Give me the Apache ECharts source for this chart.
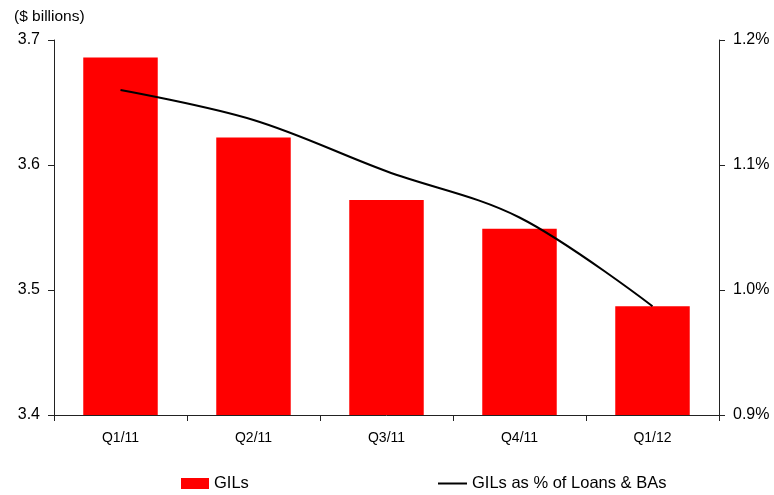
<!DOCTYPE html>
<html>
<head>
<meta charset="utf-8">
<script src="https://cdn.jsdelivr.net/npm/echarts@6/dist/echarts.min.js"></script>
<style>
  html, body { margin: 0; padding: 0; background: #fff; }
  #chart { width: 774px; height: 495px; }
</style>
</head>
<body>
<div id="chart"></div>
<script>
// Quarterly gross impaired loans
const quarters = ['Q1/11', 'Q2/11', 'Q3/11', 'Q4/11', 'Q1/12'];
const gilsBillions = [3.686, 3.622, 3.572, 3.549, 3.487];
const gilsPctOfLoans = [1.160, 1.136, 1.095, 1.058, 0.987];
const leftTicks = { min: 3.4, max: 3.7, step: 0.1 };
const rightTicks = { min: 0.9, max: 1.2, step: 0.1 };

const FONT = '"Liberation Sans", Arial, sans-serif';
const chart = echarts.init(document.getElementById('chart'), null, { renderer: 'canvas' });

const axisLine = { show: true, lineStyle: { color: '#222', width: 1 } };
const axisTick = { show: true, length: 6, lineStyle: { color: '#222' } };

chart.setOption({
  animation: false,
  backgroundColor: '#fff',
  title: {
    text: '($ billions)',
    left: 9, top: 4,
    textStyle: { fontFamily: FONT, fontSize: 15.5, fontWeight: 'normal', color: '#000' }
  },
  legend: [
    {
      data: ['GILs'],
      left: 181, top: 475, padding: 0,
      itemWidth: 28, itemHeight: 11,
      icon: 'rect',
      textStyle: { fontFamily: FONT, fontSize: 16.5, color: '#000' }
    },
    {
      data: [{ name: 'GILs as % of Loans & BAs', icon: 'rect', itemStyle: { color: '#000' } }],
      left: 438, top: 475, padding: 0,
      itemWidth: 29, itemHeight: 2,
      textStyle: { fontFamily: FONT, fontSize: 16.5, color: '#000' }
    }
  ],
  grid: { left: 54, right: 55, top: 40, bottom: 80 },
  xAxis: {
    type: 'category',
    data: quarters,
    boundaryGap: true,
    axisLine: axisLine,
    axisTick: { show: true, length: 6, alignWithLabel: false, lineStyle: { color: '#222' } },
    axisLabel: { fontFamily: FONT, fontSize: 14, color: '#000', margin: 16 }
  },
  yAxis: [
    {
      type: 'value',
      min: leftTicks.min, max: leftTicks.max, interval: leftTicks.step,
      axisLine: axisLine, axisTick: axisTick,
      splitLine: { show: false },
      axisLabel: {
        fontFamily: FONT, fontSize: 16, color: '#000', margin: 14,
        formatter: v => v.toFixed(1)
      }
    },
    {
      type: 'value',
      position: 'right',
      min: rightTicks.min, max: rightTicks.max, interval: rightTicks.step,
      axisLine: axisLine, axisTick: axisTick,
      splitLine: { show: false },
      axisLabel: {
        fontFamily: FONT, fontSize: 16, color: '#000', margin: 14,
        formatter: v => v.toFixed(1) + '%'
      }
    }
  ],
  series: [
    {
      name: 'GILs',
      type: 'bar',
      data: gilsBillions,
      barWidth: '56%',
      itemStyle: { color: '#ff0000' },
      yAxisIndex: 0
    },
    {
      name: 'GILs as % of Loans & BAs',
      type: 'line',
      data: gilsPctOfLoans,
      yAxisIndex: 1,
      smooth: 0.35,
      showSymbol: false,
      symbol: 'none',
      lineStyle: { color: '#000', width: 2 },
      itemStyle: { color: '#000' }
    }
  ]
});
</script>
</body>
</html>
